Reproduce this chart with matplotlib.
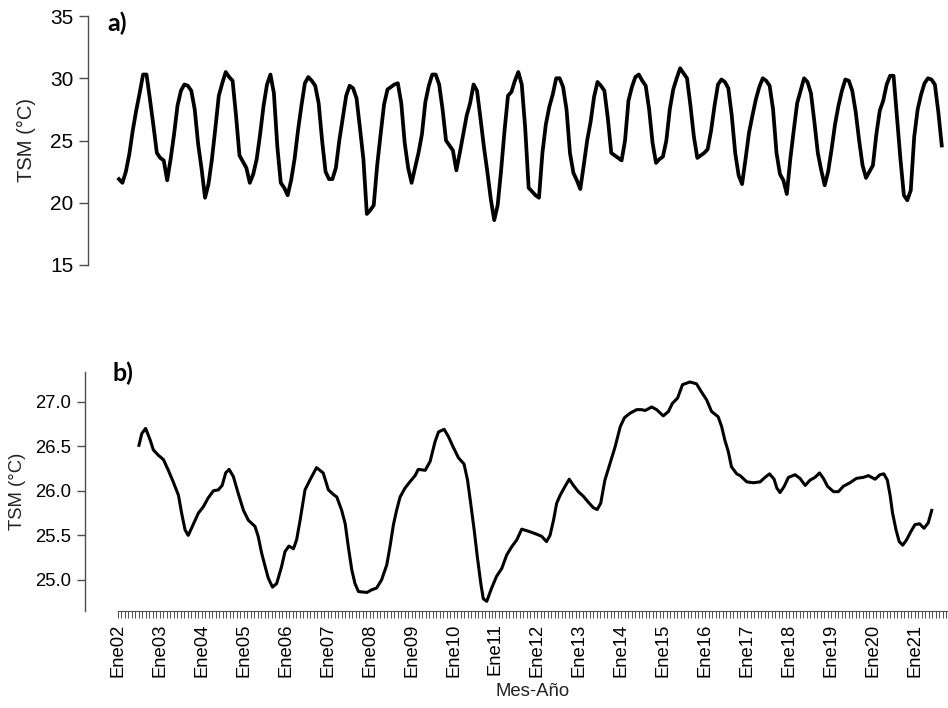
import matplotlib
matplotlib.use("Agg")
import matplotlib.pyplot as plt
import numpy as np

plt.rcParams["font.family"] = ["Liberation Sans", "DejaVu Sans"]

# Monthly sea surface temperature (degC), Jan..Dec of each year
sst_2002 = [21.9, 21.6, 22.5, 23.9, 25.8, 27.4, 28.8, 30.3, 30.3, 28.3, 26.2, 24.0]
sst_2003 = [23.6, 23.4, 21.8, 23.5, 25.5, 27.8, 29.0, 29.5, 29.4, 29.0, 27.5, 24.7]
sst_2004 = [22.7, 20.4, 21.5, 23.5, 26.0, 28.6, 29.6, 30.5, 30.1, 29.8, 27.0, 23.8]
sst_2005 = [23.3, 22.8, 21.6, 22.3, 23.5, 25.5, 27.8, 29.5, 30.3, 28.8, 24.5, 21.6]
sst_2006 = [21.2, 20.6, 21.8, 23.5, 25.8, 27.8, 29.6, 30.1, 29.8, 29.4, 28.0, 25.0]
sst_2007 = [22.5, 21.9, 21.9, 22.8, 25.0, 26.8, 28.6, 29.4, 29.2, 28.4, 26.0, 23.5]
sst_2008 = [19.1, 19.4, 19.8, 23.0, 25.5, 27.9, 29.1, 29.3, 29.5, 29.6, 28.0, 24.8]
sst_2009 = [22.8, 21.6, 22.8, 24.0, 25.5, 28.1, 29.4, 30.3, 30.3, 29.5, 27.5, 25.0]
sst_2010 = [24.6, 24.2, 22.6, 24.0, 25.5, 27.0, 28.0, 29.5, 29.0, 26.8, 24.5, 22.5]
sst_2011 = [20.3, 18.6, 19.8, 22.6, 25.8, 28.6, 28.9, 29.8, 30.5, 29.5, 26.0, 21.2]
sst_2012 = [20.9, 20.6, 20.4, 24.0, 26.3, 27.7, 28.7, 30.0, 30.0, 29.3, 27.5, 24.0]
sst_2013 = [22.4, 21.8, 21.1, 23.0, 25.0, 26.5, 28.5, 29.7, 29.4, 29.0, 26.8, 24.0]
sst_2014 = [23.8, 23.6, 23.4, 25.0, 28.2, 29.3, 30.1, 30.3, 29.8, 29.4, 27.5, 24.8]
sst_2015 = [23.2, 23.5, 23.7, 25.0, 27.5, 29.1, 30.0, 30.8, 30.4, 30.0, 27.8, 25.3]
sst_2016 = [23.6, 23.8, 24.0, 24.3, 25.8, 27.8, 29.5, 29.9, 29.7, 29.2, 27.0, 24.0]
sst_2017 = [22.2, 21.5, 23.5, 25.6, 27.0, 28.3, 29.3, 30.0, 29.8, 29.4, 27.5, 24.0]
sst_2018 = [22.3, 21.8, 20.7, 23.5, 25.8, 28.0, 29.0, 30.0, 29.7, 28.8, 26.5, 24.0]
sst_2019 = [22.6, 21.4, 22.5, 24.3, 26.3, 27.8, 29.0, 29.9, 29.8, 29.0, 27.3, 25.0]
sst_2020 = [23.0, 22.0, 22.5, 23.0, 25.5, 27.4, 28.2, 29.5, 30.2, 30.2, 26.8, 23.5]
sst_2021 = [20.6, 20.2, 21.0, 25.3, 27.5, 28.7, 29.6, 30.0, 29.9, 29.5, 27.3, 24.6]

sst_monthly = (sst_2002 + sst_2003 + sst_2004 + sst_2005 + sst_2006 + sst_2007
               + sst_2008 + sst_2009 + sst_2010 + sst_2011 + sst_2012 + sst_2013
               + sst_2014 + sst_2015 + sst_2016 + sst_2017 + sst_2018 + sst_2019
               + sst_2020 + sst_2021)

# 12-month running mean, as (months since Jan 2002, degC)
ma_month = [6.0, 6.8, 7.9, 9.2, 10.1, 11.5, 13.0, 14.4, 15.8, 17.3, 18.2, 19.2,
            20.1, 21.6, 23.0, 24.4, 25.8, 27.3, 28.7, 29.8, 30.8, 31.8, 33.0, 34.4,
            35.9, 37.3, 39.2, 40.1, 41.1, 42.1, 43.0, 44.2, 45.4, 46.8, 47.8, 48.9,
            50.2, 51.1, 52.1, 53.5, 54.9, 56.8, 58.7, 60.2, 61.6, 62.6, 64.0, 65.0,
            65.9, 66.9, 67.8, 68.8, 71.2, 72.6, 74.0, 75.4, 76.9, 77.8, 78.8, 79.7,
            80.7, 82.1, 83.5, 85.0, 85.9, 87.9, 89.3, 90.7, 91.7, 93.3, 94.5, 95.9,
            97.4, 99.0, 100.0, 100.9, 101.9, 102.8, 103.8, 104.5, 105.5, 106.9, 108.3,
            109.8, 111.2, 112.6, 114.1, 115.5, 117.9, 119.3, 121.2, 122.6, 123.6,
            124.6, 125.5, 126.5, 127.9, 129.1, 130.3, 131.7, 133.1, 134.6, 136.0,
            137.1, 138.1, 139.3, 140.8, 142.2, 143.7, 144.9, 146.5, 148.4, 149.8,
            150.8, 152.7, 154.1, 156.0, 157.5, 158.6, 160.1, 161.5, 163.6, 165.5,
            166.9, 168.4, 169.8, 171.7, 172.7, 173.6, 174.6, 175.5, 177.0, 178.0,
            179.9, 181.8, 183.7, 185.1, 186.4, 187.7, 188.5, 189.4, 190.6, 191.8,
            193.7, 195.1, 196.6, 198.0, 199.4, 200.7, 201.8, 203.0, 204.7, 206.1,
            207.5, 209.4, 211.3, 213.2, 214.7, 216.6, 218.0, 219.1, 220.1, 220.9,
            221.6, 222.6, 223.5, 224.5, 225.6, 226.8, 228.0, 229.3, 230.6, 231.8,
            232.8]
ma_value = [26.51, 26.64, 26.70, 26.57, 26.46, 26.40, 26.35, 26.23, 26.10, 25.95, 25.75, 25.56,
            25.50, 25.63, 25.75, 25.82, 25.92, 26.00, 26.01, 26.06, 26.20, 26.24, 26.16, 25.97,
            25.78, 25.67, 25.60, 25.49, 25.30, 25.15, 25.02, 24.92, 24.96, 25.15, 25.32, 25.38,
            25.35, 25.45, 25.67, 26.01, 26.12, 26.26, 26.20, 26.01, 25.96, 25.93, 25.78, 25.63,
            25.37, 25.11, 24.96, 24.87, 24.86, 24.89, 24.91, 25.00, 25.17, 25.37, 25.62, 25.78,
            25.93, 26.03, 26.10, 26.17, 26.24, 26.23, 26.33, 26.55, 26.66, 26.69, 26.61, 26.49,
            26.37, 26.30, 26.12, 25.86, 25.56, 25.26, 24.96, 24.79, 24.76, 24.91, 25.04,
            25.13, 25.28, 25.37, 25.45, 25.57, 25.54, 25.52, 25.49, 25.43, 25.50,
            25.67, 25.86, 25.95, 26.05, 26.13, 26.06, 25.99, 25.94, 25.87, 25.81,
            25.79, 25.86, 26.12, 26.31, 26.49, 26.72, 26.82, 26.87, 26.91, 26.91,
            26.90, 26.94, 26.91, 26.84, 26.89, 26.98, 27.04, 27.19, 27.22, 27.20,
            27.11, 27.02, 26.89, 26.83, 26.72, 26.57, 26.44, 26.27, 26.19, 26.17,
            26.10, 26.09, 26.10, 26.15, 26.19, 26.13, 26.03, 25.98, 26.05, 26.15,
            26.18, 26.14, 26.06, 26.12, 26.15, 26.20, 26.14, 26.05, 25.99, 25.99,
            26.05, 26.09, 26.14, 26.15, 26.17, 26.13, 26.18, 26.19, 26.12, 25.95,
            25.75, 25.56, 25.43, 25.39, 25.45, 25.54, 25.62, 25.63, 25.58, 25.64,
            25.78]

years = list(range(2002, 2022))
year_labels = ["Ene%02d" % (y % 100) for y in years]

W, H = 948, 708
axis_grey = "#4d4d4d"


def px_rect(left, top, right, bottom):
    """Axes rectangle given in pixel edges (y measured from the top)."""
    return [left / W, 1 - bottom / H, (right - left) / W, (bottom - top) / H]


fig = plt.figure(figsize=(W / 100, H / 100), dpi=100)

# a) monthly series
ax1 = fig.add_axes(px_rect(88, 16, 981, 265))
ax1.plot(np.arange(len(sst_monthly)), sst_monthly, color="black", lw=2.7,
         solid_joinstyle="round")
ax1.set_ylim(15, 35)
ax1.set_xlim(-9.0, 250.4)
ax1.set_yticks([15, 20, 25, 30, 35])
for s in ("top", "right", "bottom"):
    ax1.spines[s].set_visible(False)
ax1.spines["left"].set_color(axis_grey)
ax1.spines["left"].set_linewidth(1.0)
ax1.tick_params(axis="y", labelsize=15, length=6.5, width=1.0, color=axis_grey, pad=4)
ax1.tick_params(axis="x", bottom=False, labelbottom=False)
ax1.patch.set_alpha(0)

# b) running mean
ax2 = fig.add_axes(px_rect(85, 372, 981, 611))
ax2.plot(ma_month, ma_value, color="black", lw=2.2, solid_joinstyle="round")
ax2.set_ylim(24.652, 27.332)
ax2.set_xlim(-9.44, 246.9)
ax2.set_yticks([25.0, 25.5, 26.0, 26.5, 27.0])
ax2.set_yticklabels(["25.0", "25.5", "26.0", "26.5", "27.0"])
ax2.set_xticks(np.arange(0, 240))
ax2.set_xticklabels([year_labels[i // 12] if i % 12 == 0 else "" for i in range(240)],
                    rotation=90)
for s in ("top", "right"):
    ax2.spines[s].set_visible(False)
ax2.spines["left"].set_color(axis_grey)
ax2.spines["left"].set_linewidth(1.0)
ax2.spines["bottom"].set_color(axis_grey)
ax2.spines["bottom"].set_linewidth(0.8)
ax2.spines["bottom"].set_bounds(0, 239)
ax2.tick_params(axis="y", labelsize=13.3, length=6, width=1.0, color=axis_grey, pad=4)
ax2.tick_params(axis="x", labelsize=13.3, length=5, width=0.7, color=axis_grey, pad=4)
ax2.patch.set_alpha(0)

# axis titles and panel letters
fig.text(26 / W, 1 - 140 / H, "TSM (°C)", rotation=90, ha="center", va="center",
         fontsize=14.5, color="#222222")
fig.text(17 / W, 1 - 491 / H, "TSM (°C)", rotation=90, ha="center", va="center",
         fontsize=13.3, color="#222222")
fig.text(533 / W, 1 - 691 / H, "Mes-Año", ha="center", va="center",
         fontsize=13.3, color="#222222")
fig.text(107 / W, 1 - 31 / H, "a)", ha="left", va="baseline", fontsize=18,
         fontweight="bold", family=["Lato", "DejaVu Sans"])
fig.text(112 / W, 1 - 381 / H, "b)", ha="left", va="baseline", fontsize=18,
         fontweight="bold", family=["Lato", "DejaVu Sans"])

fig.savefig("out.png", dpi=100)
